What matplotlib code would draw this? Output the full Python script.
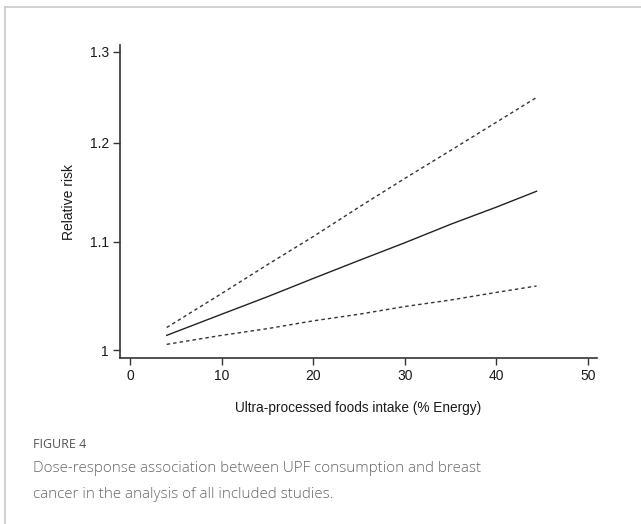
import matplotlib
matplotlib.use("Agg")
import matplotlib.pyplot as plt
from matplotlib.ticker import FixedLocator, FixedFormatter, NullLocator
from matplotlib.lines import Line2D

# Data
intake = [4, 10, 15, 20, 25, 30, 35, 40, 44.4]
rr = [1.013, 1.032, 1.048, 1.065, 1.082, 1.099, 1.117, 1.134, 1.150]
rr_upper = [1.020, 1.051, 1.078, 1.105, 1.134, 1.163, 1.192, 1.222, 1.249]
rr_lower = [1.005, 1.013, 1.019, 1.026, 1.032, 1.039, 1.045, 1.052, 1.058]

x_ticks = [0, 10, 20, 30, 40, 50]
y_ticks = [1.0, 1.1, 1.2, 1.3]
y_tick_labels = ["1", "1.1", "1.2", "1.3"]

caption_label = "FIGURE 4"
caption_lines = ["Dose-response association between UPF consumption and breast",
                 "cancer in the analysis of all included studies."]

plt.rcParams['font.family'] = ['Liberation Sans', 'DejaVu Sans']

fig = plt.figure(figsize=(6.41, 5.24), dpi=100)
W, H = 641, 524

# outer frame lines (top and left)
fig.add_artist(Line2D([5 / W, 1.0], [1 - 7 / H, 1 - 7 / H], color="#c8c8c8", lw=1.2))
fig.add_artist(Line2D([5 / W, 5 / W], [1 - 7 / H, 0.0], color="#c8c8c8", lw=1.2))

ax = fig.add_axes([120 / W, 1 - 358 / H, (597 - 120) / W, (358 - 45) / H])
ax.set_yscale("log")

ax.plot(intake, rr, color="#222222", lw=1.0)
ax.plot(intake, rr_upper, color="#333333", lw=1.0, linestyle=(0, (2.5, 2.2)))
ax.plot(intake, rr_lower, color="#333333", lw=1.0, linestyle=(0, (2.5, 2.2)))

ax.set_xlim(-1.1, 51)
ax.set_ylim(0.993, 1.308)

ax.xaxis.set_major_locator(FixedLocator(x_ticks))
ax.yaxis.set_major_locator(FixedLocator(y_ticks))
ax.yaxis.set_major_formatter(FixedFormatter(y_tick_labels))
ax.yaxis.set_minor_locator(NullLocator())
ax.xaxis.set_minor_locator(NullLocator())

for s in ["top", "right"]:
    ax.spines[s].set_visible(False)
for s in ["left", "bottom"]:
    ax.spines[s].set_color("#333333")
    ax.spines[s].set_linewidth(1.2)

ax.tick_params(axis="both", direction="out", length=5, width=1.0, color="#333333",
               labelsize=10, labelcolor="#1a1a1a", pad=3)

ax.set_ylabel("Relative risk", fontsize=10, color="#1a1a1a", labelpad=10)
ax.set_xlabel("Ultra-processed foods intake (% Energy)", fontsize=9.8, color="#1a1a1a", labelpad=13)

fig.text(33 / W, 1 - 444 / H, caption_label, fontsize=9, color="#555555",
         family=['Open Sans', 'DejaVu Sans'], va="center", ha="left")
for i, line in enumerate(caption_lines):
    fig.text(33 / W, 1 - (469 + 26 * i) / H, line, fontsize=10.9, color="#666666",
             family=['Open Sans', 'DejaVu Sans'], va="center", ha="left",
             fontweight="light")

fig.savefig("out.png", dpi=100)
